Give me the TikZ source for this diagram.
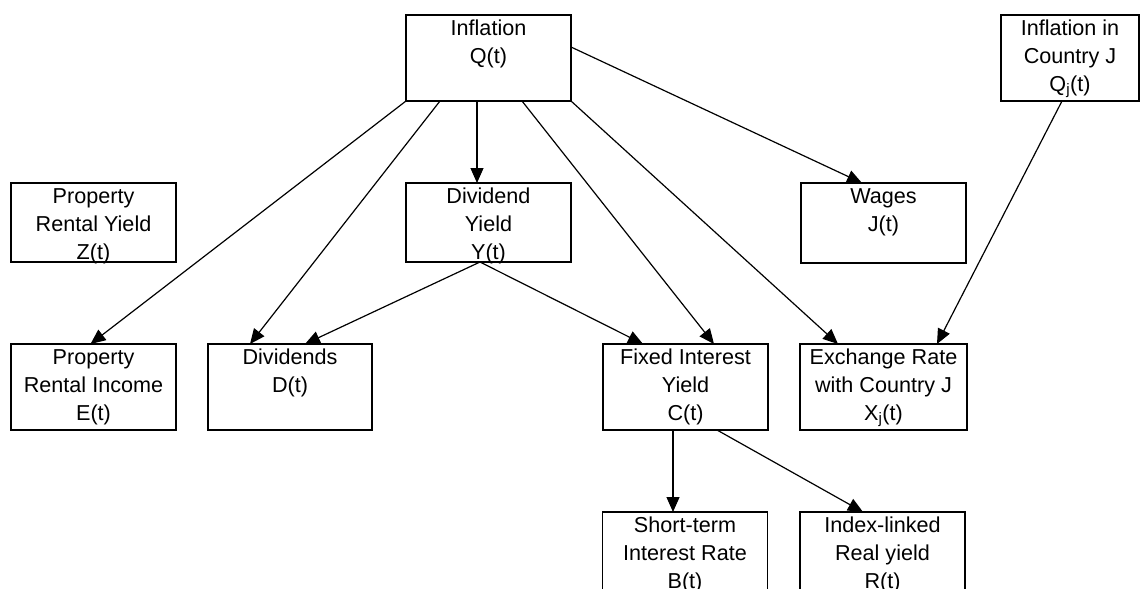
\documentclass[tikz,border=0pt]{standalone}
\usepackage{fontspec}
\setmainfont{Liberation Sans}
\usetikzlibrary{arrows.meta,calc}

% fixed-size box content: text starts at the top, lines centred
\newcommand{\boxtext}[3]{\parbox[c][#2][t]{#1}{\centering\fontsize{21.6pt}{28pt}\selectfont\rule{0pt}{20pt}#3\par}}

\tikzset{
  var/.style={draw, line width=1.8pt, inner sep=0pt, outer sep=0pt},
  link/.style={line width=1.2pt, -{Triangle[length=15pt,width=13pt]}}
}

\begin{document}
\begin{tikzpicture}[x=1pt,y=-1pt]
\useasboundingbox (0,0) rectangle (1141,589);
\clip (0,0) rectangle (1141,589);
\fill[white] (0,0) rectangle (1141,589);

% variables
\node[var] (inf) at (488.5,58)   {\boxtext{165pt}{86pt}{Inflation\\Q(t)}};
\node[var] (cj)  at (1070,58)    {\boxtext{138pt}{86pt}{Inflation in\\Country J\\Q\textsubscript{j}(t)}};
\node[var] (pry) at (93.5,222.5) {\boxtext{165pt}{79pt}{Property\\Rental Yield\\Z(t)}};
\node[var] (dy)  at (488.5,222.5){\boxtext{165pt}{79pt}{Dividend\\Yield\\Y(t)}};
\node[var] (wag) at (883.5,223)  {\boxtext{165pt}{80pt}{Wages\\J(t)}};
\node[var] (pri) at (93.5,387)   {\boxtext{165pt}{86pt}{Property\\Rental Income\\E(t)}};
\node[var] (div) at (290,387)    {\boxtext{164pt}{86pt}{Dividends\\D(t)}};
\node[var] (fix) at (685.5,387)  {\boxtext{165pt}{86pt}{Fixed Interest\\Yield\\C(t)}};
\node[var] (exc) at (883.5,387)  {\boxtext{167pt}{86pt}{Exchange Rate\\with Country J\\X\textsubscript{j}(t)}};
\node[var] (sti) at (685,555)    {\boxtext{165pt}{86pt}{Short-term\\Interest Rate\\B(t)}};
\node[var] (idx) at (882.5,555)  {\boxtext{165pt}{86pt}{Index-linked\\Real yield\\R(t)}};

% links from inflation
\draw[link] (inf.south west) -- ([xshift=-3pt]pri.north);
\draw[link] ([xshift=-48.5pt]inf.south) -- ([xshift=-40pt]div.north);
\draw[link] ([xshift=-11.5pt]inf.south) -- ([xshift=-11.5pt]dy.north);
\draw[link] ([xshift=33.5pt]inf.south) -- ([xshift=28.5pt]fix.north);
\draw[link] (inf.south east) -- ([xshift=-45.5pt]exc.north);
\draw[link] ([yshift=11pt]inf.east) -- ([xshift=-21.5pt]wag.north);

% foreign inflation
\draw[link] ([xshift=-8pt]cj.south) -- ([xshift=53.5pt]exc.north);

% dividend yield
\draw[link] ([xshift=-8.5pt]dy.south) -- ([xshift=15pt]div.north);
\draw[link] ([xshift=-8.5pt]dy.south) -- ([xshift=-42.5pt]fix.north);

% fixed interest yield
\draw[link] ([xshift=-12.5pt]fix.south) -- ([xshift=-12pt]sti.north);
\draw[link] ([xshift=31.5pt]fix.south) -- ([xshift=-19.5pt]idx.north);
\end{tikzpicture}
\end{document}
